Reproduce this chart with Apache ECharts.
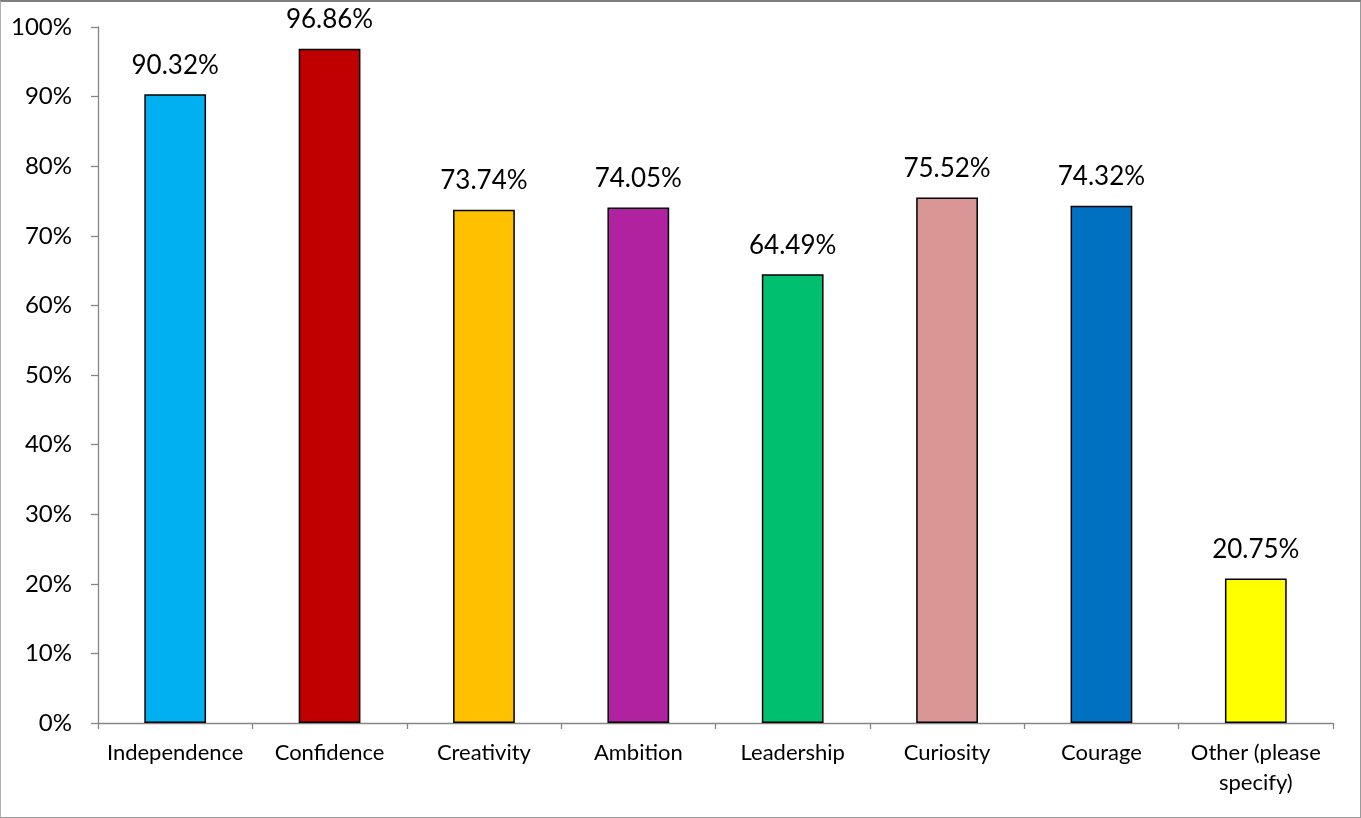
<!DOCTYPE html>
<html>
<head>
<meta charset="utf-8">
<script src="https://cdn.jsdelivr.net/npm/echarts@6/dist/echarts.min.js"></script>
<style>
html,body{margin:0;padding:0;background:#fff;}
#frame{position:absolute;left:0;top:0;width:1359px;height:815px;border-left:1px solid #b0b0b0;border-bottom:1px solid #9a9a9a;border-top:2px solid #7f7f7f;border-right:2px solid #9a9a9a;}
#chart{width:1359px;height:815px;}
</style>
</head>
<body>
<div id="frame"><div id="chart"></div></div>
<script>
const categories = ['Independence','Confidence','Creativity','Ambition','Leadership','Curiosity','Courage','Other (please\nspecify)'];
const values = [90.32, 96.86, 73.74, 74.05, 64.49, 75.52, 74.32, 20.75];
const barColors = ['#00B0F0','#C00000','#FFC000','#B0229F','#00BF6F','#D99694','#0070C0','#FFFF00'];
const yTicks = [0,10,20,30,40,50,60,70,80,90,100];

const chart = echarts.init(document.getElementById('chart'), null, {renderer:'canvas'});
const font = 'Lato, "Open Sans", sans-serif';
chart.setOption({
  animation:false,
  grid:{left:97,right:27,top:25,bottom:94},
  xAxis:{
    type:'category',
    data:categories,
    axisLine:{lineStyle:{color:'#868686',width:1.3}},
    axisTick:{show:true,length:6,lineStyle:{color:'#868686',width:1.3}},
    axisLabel:{color:'#000',fontSize:22,fontFamily:font,margin:15,lineHeight:30,interval:0}
  },
  yAxis:{
    type:'value',min:yTicks[0],max:yTicks[yTicks.length-1],interval:10,
    axisLine:{show:true,lineStyle:{color:'#868686',width:1.3}},
    axisTick:{show:true,length:7,lineStyle:{color:'#868686',width:1.3}},
    splitLine:{show:false},
    axisLabel:{color:'#000',fontSize:24,fontFamily:font,margin:26,formatter:v=>v+'%'}
  },
  series:[{
    type:'bar',
    barWidth:'40%',
    data:values.map((v,i)=>({value:v,itemStyle:{color:barColors[i]}})),
    itemStyle:{borderColor:'#000',borderWidth:1.5},
    label:{show:true,position:'top',distance:16,color:'#000',fontSize:26,fontFamily:font,formatter:p=>p.value.toFixed(2)+'%'}
  }]
});
</script>
</body>
</html>
